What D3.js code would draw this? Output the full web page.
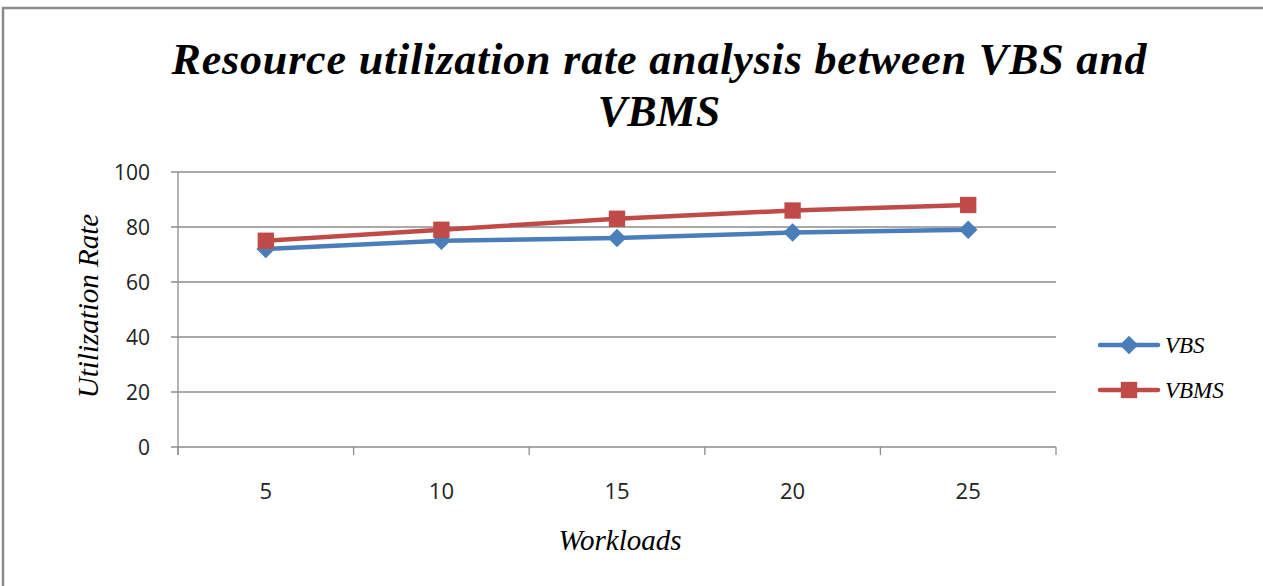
<!DOCTYPE html>
<html>
<head>
<meta charset="utf-8">
<script src="https://cdn.jsdelivr.net/npm/d3@7"></script>
<style>
  body { margin: 0; background: #fff; }
  .title { font-family: "Liberation Serif", "DejaVu Serif", serif; font-style: italic; font-weight: bold; font-size: 44px; fill: #000; }
  .axis-title { font-family: "Liberation Serif", "DejaVu Serif", serif; font-style: italic; font-size: 29px; fill: #000; }
  .tick-label { font-family: "Open Sans", sans-serif; font-size: 21px; fill: #222; }
  .x-label { font-family: "Open Sans", sans-serif; font-size: 22px; fill: #222; }
  .legend-text { font-family: "Liberation Serif", serif; font-style: italic; font-size: 23px; fill: #000; }
</style>
</head>
<body>
<div id="chart"></div>
<script>
const categories = ['5', '10', '15', '20', '25'];
const vbs = [72, 75, 76, 78, 79];
const vbms = [75, 79, 83, 86, 88];
const yTicks = [0, 20, 40, 60, 80, 100];
const seriesNames = ['VBS', 'VBMS'];

const width = 1263, height = 586;
const svg = d3.select('#chart').append('svg')
    .attr('width', width)
    .attr('height', height);

// chart frame
svg.append('rect')
    .attr('x', 3).attr('y', 8)
    .attr('width', width + 10).attr('height', height + 10)
    .attr('fill', 'none')
    .attr('stroke', '#8c8c8c')
    .attr('stroke-width', 2.5);

const plot = { left: 178, right: 1056, top: 172, bottom: 447 };

const x = d3.scaleBand()
    .domain(categories)
    .range([plot.left, plot.right]);

const y = d3.scaleLinear()
    .domain([0, 100])
    .range([plot.bottom, plot.top]);

// gridlines
svg.append('g')
    .selectAll('line')
    .data(yTicks)
    .enter().append('line')
    .attr('x1', plot.left - 7)
    .attr('x2', plot.right)
    .attr('y1', d => y(d))
    .attr('y2', d => y(d))
    .attr('stroke', '#8c8c8c')
    .attr('stroke-width', 1.3);

// y axis line
svg.append('line')
    .attr('x1', plot.left).attr('x2', plot.left)
    .attr('y1', plot.top).attr('y2', plot.bottom + 8)
    .attr('stroke', '#8c8c8c').attr('stroke-width', 1.3);

// x tick marks at band edges
let edges = categories.map(c => x(c)).concat([plot.right]);
svg.append('g')
    .selectAll('line')
    .data(edges)
    .enter().append('line')
    .attr('x1', d => d).attr('x2', d => d)
    .attr('y1', plot.bottom).attr('y2', plot.bottom + 8)
    .attr('stroke', '#8c8c8c').attr('stroke-width', 1.3);

// y tick labels
svg.append('g')
    .selectAll('text')
    .data(yTicks)
    .enter().append('text')
    .attr('class', 'tick-label')
    .attr('x', 150)
    .attr('y', d => y(d) + 8)
    .attr('text-anchor', 'end')
    .text(d => d);

// x tick labels
svg.append('g')
    .selectAll('text')
    .data(categories)
    .enter().append('text')
    .attr('class', 'x-label')
    .attr('x', d => x(d) + x.bandwidth() / 2)
    .attr('y', 499)
    .attr('text-anchor', 'middle')
    .text(d => d);

// titles
svg.append('text')
    .attr('class', 'title')
    .attr('x', 659).attr('y', 74)
    .attr('text-anchor', 'middle')
    .attr('textLength', 975)
    .text('Resource utilization rate analysis between  VBS and');
svg.append('text')
    .attr('class', 'title')
    .attr('x', 659).attr('y', 126)
    .attr('text-anchor', 'middle')
    .text('VBMS');

svg.append('text')
    .attr('class', 'axis-title')
    .attr('transform', 'translate(98,306) rotate(-90)')
    .attr('text-anchor', 'middle')
    .text('Utilization Rate');

svg.append('text')
    .attr('class', 'axis-title')
    .attr('x', 620).attr('y', 550)
    .attr('text-anchor', 'middle')
    .text('Workloads');

const colors = ['#4a7ebb', '#be4b48'];
const seriesData = [vbs, vbms];
const line = d3.line()
    .x((d, i) => x(categories[i]) + x.bandwidth() / 2)
    .y(d => y(d));

const diamond = d3.symbol().type(d3.symbolDiamond2).size(220);
const square = d3.symbol().type(d3.symbolSquare2).size(340);

seriesData.forEach((vals, s) => {
    svg.append('path')
        .datum(vals)
        .attr('d', line)
        .attr('fill', 'none')
        .attr('stroke', colors[s])
        .attr('stroke-width', 4.5)
        .attr('stroke-linejoin', 'round');

    svg.append('g')
        .selectAll('path')
        .data(vals)
        .enter().append('path')
        .attr('transform', (d, i) => `translate(${x(categories[i]) + x.bandwidth() / 2},${y(d)})`)
        .attr('d', s === 0 ? diamond : square)
        .attr('fill', colors[s]);
});

// legend
seriesNames.forEach((name, s) => {
    let ly = 345 + s * 45;
    svg.append('line')
        .attr('x1', 1100).attr('x2', 1158)
        .attr('y1', ly).attr('y2', ly)
        .attr('stroke', colors[s]).attr('stroke-width', 4.5)
        .attr('stroke-linecap', 'round');
    svg.append('path')
        .attr('transform', `translate(1129,${ly})`)
        .attr('d', s === 0 ? diamond : square)
        .attr('fill', colors[s]);
    svg.append('text')
        .attr('class', 'legend-text')
        .attr('x', 1165).attr('y', ly + 8)
        .text(name);
});
</script>
</body>
</html>
